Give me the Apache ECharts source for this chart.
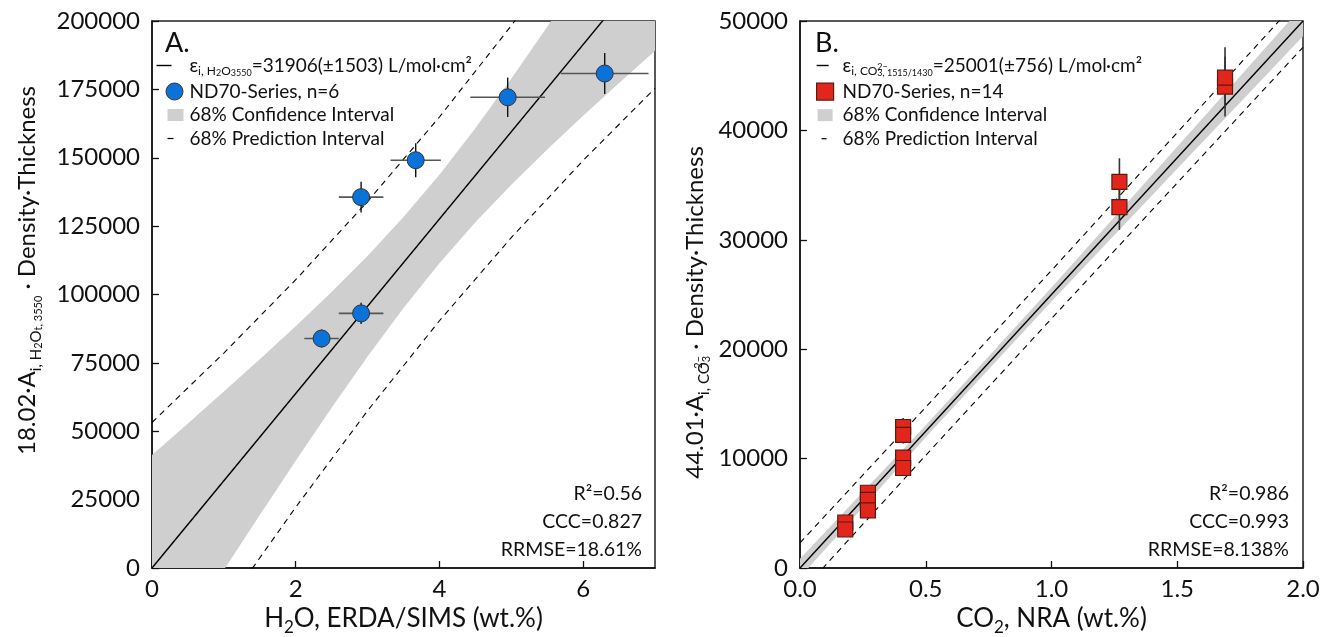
<!DOCTYPE html>
<html>
<head>
<meta charset="utf-8">
<title>ND70-Series calibration</title>
<script src="https://cdn.jsdelivr.net/npm/echarts@6/dist/echarts.min.js"></script>
<style>
  html, body { margin: 0; padding: 0; background: #fff; }
  #main { width: 1336px; height: 637px; }
</style>
</head>
<body>
<div id="main"></div>
<script>
/*---------------- A: H2O ----------------*/
var h2oX    = [2.36, 2.91, 2.91, 3.67, 4.95, 6.30];
var h2oXerr = [0.24, 0.31, 0.31, 0.35, 0.52, 0.61];
var h2oY    = [83900, 93100, 135600, 149100, 172100, 180800];
var h2oYerr = [3300, 3900, 5600, 6200, 7200, 7500];
var h2oFit  = [[0, 0], [7, 223300]];
// 68% confidence band
var h2oCiX  = [0, 0.5, 1, 1.5, 2, 2.5, 3, 3.5, 4, 4.5, 5, 5.5, 6, 6.5, 7];
var h2oCiLo = [-41300, -20900, -700, 19400, 39200, 58600, 77300, 95100, 111400, 126400, 140100, 153000, 165400, 177300, 189100];
var h2oCiHi = [41300, 52800, 64500, 76300, 88400, 100900, 114100, 128300, 143800, 160800, 178900, 197900, 217500, 237400, 257600];
// 68% prediction interval (dashed)
var h2oPiX  = [0, 1, 2, 3, 4, 5, 6, 7];
var h2oPiLo = [-53200, -14800, 22200, 57500, 90400, 120800, 149000, 175400];
var h2oPiHi = [53200, 78600, 105400, 134000, 164900, 198300, 233900, 271300];

/*---------------- B: CO2 ----------------*/
var co2X    = [0.18, 0.18, 0.27, 0.27, 0.27, 0.41, 0.41, 0.41, 0.41, 1.27, 1.27, 1.69, 1.69];
var co2Y    = [4160, 3520, 6880, 6220, 5270, 12890, 12160, 10080, 9140, 35300, 32990, 44000, 44820];
var co2Yerr = [300, 250, 480, 440, 370, 820, 780, 650, 600, 2150, 2090, 2740, 2780];
var co2Fit  = [[0, 0], [2, 50002]];
var co2CiX  = [0, 0.5, 1, 1.5, 2];
var co2CiLo = [-850, 11950, 24350, 36500, 48600];
var co2CiHi = [850, 13050, 25650, 38500, 51400];
var co2PiX  = [0, 0.5, 1, 1.5, 2];
var co2PiLo = [-2300, 10300, 22800, 35200, 47600];
var co2PiHi = [2300, 14700, 27200, 39800, 52400];

(function () {
	var FONT = 'Lato';
	var INK = '#111';

	function pairs(xs, ys) {
		return xs.map(function (x, i) { return [x, ys[i]]; });
	}

	// grey confidence band as one polygon
	function bandItem(xs, lo, hi) {
		return function (params, api) {
			if (params.dataIndex !== 0) return;
			var pts = [];
			for (var i = 0; i < xs.length; i++) pts.push(api.coord([xs[i], hi[i]]));
			for (var j = xs.length - 1; j >= 0; j--) pts.push(api.coord([xs[j], lo[j]]));
			var cs = params.coordSys;
			return {
				type: 'polygon',
				shape: { points: pts },
				style: { fill: '#cfcfcf' },
				clipPath: { type: 'rect', shape: { x: cs.x, y: cs.y, width: cs.width, height: cs.height } }
			};
		};
	}

	function errItem(hColor, vColor, hWidth, vWidth) {
		return function (params, api) {
			var x = api.value(0), y = api.value(1), dx = api.value(2), dy = api.value(3);
			var kids = [];
			if (dx > 0) {
				var a = api.coord([x - dx, y]), b = api.coord([x + dx, y]);
				kids.push({ type: 'line', shape: { x1: a[0], y1: a[1], x2: b[0], y2: b[1] }, style: { stroke: hColor, lineWidth: hWidth } });
			}
			if (dy > 0) {
				var c = api.coord([x, y + dy]), d = api.coord([x, y - dy]);
				kids.push({ type: 'line', shape: { x1: c[0], y1: c[1], x2: d[0], y2: d[1] }, style: { stroke: vColor, lineWidth: vWidth } });
			}
			return { type: 'group', children: kids };
		};
	}

	// legend text: main / subscript / sub-subscript / stacked superscript
	var rich = {
		m: { fontFamily: FONT, fontSize: 19, lineHeight: 24, color: INK },
		s: { fontFamily: FONT, fontSize: 12, verticalAlign: 'bottom', color: INK },
		ss: { fontFamily: FONT, fontSize: 9, verticalAlign: 'bottom', color: INK },
		z: { fontFamily: FONT, fontSize: 9, verticalAlign: 'bottom', padding: [0, 0, 6, 0], width: 0, color: INK }
	};

	var axisRich = {
		m: { fontFamily: FONT, fontSize: 26, lineHeight: 34, color: INK },
		s: { fontFamily: FONT, fontSize: 17, verticalAlign: 'bottom', color: INK }
	};
	var yRich = {
		m: { fontFamily: FONT, fontSize: 24, lineHeight: 33, color: INK },
		s: { fontFamily: FONT, fontSize: 15, verticalAlign: 'bottom', color: INK },
		ss: { fontFamily: FONT, fontSize: 11, verticalAlign: 'bottom', color: INK },
		z: { fontFamily: FONT, fontSize: 11, verticalAlign: 'bottom', padding: [0, 0, 8, 0], width: 0, color: INK }
	};

	function xAxisOf(idx, min, max, interval, name, fmt, showMax) {
		return {
			type: 'value', gridIndex: idx, min: min, max: max, interval: interval,
			name: name, nameLocation: 'middle', nameGap: 30,
			nameTextStyle: { fontFamily: FONT, fontSize: 26, color: INK, rich: axisRich },
			axisLine: { show: true, onZero: false, lineStyle: { color: '#111', width: 1.5 } },
			axisTick: { show: true, inside: true, length: 7, lineStyle: { color: '#111', width: 1.3 } },
			axisLabel: { fontFamily: FONT, fontSize: 24, color: INK, margin: 9, formatter: fmt, showMaxLabel: showMax },
			splitLine: { show: false }
		};
	}

	function yAxisOf(idx, max, interval, name, gap, pad) {
		return {
			type: 'value', gridIndex: idx, min: 0, max: max, interval: interval,
			name: name, nameLocation: 'middle', nameGap: gap,
			nameTextStyle: { fontFamily: FONT, fontSize: 24, color: INK, rich: yRich, padding: pad },
			axisLine: { show: true, onZero: false, lineStyle: { color: '#111', width: 1.5 } },
			axisTick: { show: true, inside: true, length: 7, lineStyle: { color: '#111', width: 1.3 } },
			axisLabel: { fontFamily: FONT, fontSize: 24, color: INK, margin: 12, formatter: function (v) { return String(v); } },
			splitLine: { show: false }
		};
	}

	var fitIconA  = 'path://M0,0L0,0M6,8.3H21V9.7H6ZM34,18L34,18';
	var dotIconA  = 'path://M0,0L0,0M15.5,9A8.5,8.5,0,1,1,32.5,9A8.5,8.5,0,1,1,15.5,9ZM34,18L34,18';
	var ciIconA   = 'path://M0,0L0,0M17,3H33V15H17ZM34,18L34,18';
	var piIconA   = 'path://M0,0L0,0M17,8.4H23V9.6H17ZM34,18L34,18';
	var fitIconB  = 'path://M0,0L0,0M16,8.3H28V9.7H16ZM37,18L37,18';
	var sqIconB   = 'path://M0,0L0,0M16,0.5H33V17.5H16ZM37,18L37,18';
	var ciIconB   = 'path://M0,0L0,0M17,3H32V15H17ZM37,18L37,18';
	var piIconB   = 'path://M0,0L0,0M21,8.4H26V9.6H21ZM37,18L37,18';

	function legendOf(left, itemWidth, items, fitText) {
		return {
			orient: 'vertical', left: left, top: 56, padding: 0, itemGap: 4.5,
			itemWidth: itemWidth, itemHeight: 18, selectedMode: false,
			itemStyle: { borderWidth: 0 },
			textStyle: { fontFamily: FONT, fontSize: 19, color: INK, rich: rich },
			data: items,
			formatter: function (name) {
				if (name === 'fitA' || name === 'fitB') return fitText;
				return '{m|' + name + '}';
			}
		};
	}

	function statText(x, y, t) {
		return { type: 'text', x: x, y: y, style: { text: t, align: 'right', verticalAlign: 'middle', fontFamily: FONT, fontSize: 19.5, fill: INK } };
	}

	var option = {
		animation: false,
		backgroundColor: '#fff',
		grid: [
			{ left: 152, top: 21, width: 503, height: 547, show: true, borderColor: '#222', borderWidth: 1.5, backgroundColor: 'transparent', containLabel: false, outerBoundsMode: 'none' },
			{ left: 800, top: 21, width: 503, height: 547, show: true, borderColor: '#222', borderWidth: 1.5, backgroundColor: 'transparent', containLabel: false, outerBoundsMode: 'none' }
		],
		xAxis: [
			xAxisOf(0, 0, 7, 2, '{m|H}{s|2}{m|O, ERDA/SIMS (wt.%)}', function (v) { return String(v); }, false),
			xAxisOf(1, 0, 2, 0.5, '{m|CO}{s|2}{m|, NRA (wt.%)}', function (v) { return v.toFixed(1); }, true)
		],
		yAxis: [
			yAxisOf(0, 200000, 25000, '{m|18.02·A}{s|i, H}{ss|2}{s|O}{ss|t, 3550}{m| · Density·Thickness}', 108, [0, 0, 0, 48]),
			yAxisOf(1, 50000, 10000, '{m|44.01·A}{s|i, CO}{z|2−}{ss|3}{m| · Density·Thickness}', 88, [0, 36, 0, 0])
		],
		legend: [
			legendOf(150, 34, [
				{ name: 'fitA', icon: fitIconA, itemStyle: { color: '#000', borderWidth: 0 } },
				{ name: 'ND70-Series, n=6', icon: dotIconA, itemStyle: { color: '#0b72d9', borderColor: '#333', borderWidth: 1 } },
				{ name: '68% Confidence Interval', icon: ciIconA, itemStyle: { color: '#cfcfcf', borderWidth: 0 } },
				{ name: '68% Prediction Interval', icon: piIconA, itemStyle: { color: '#000', borderWidth: 0 } }
			], '{m|ε}{s|i, H}{ss|2}{s|O}{ss|3550}{m|=31906(±1503) L/mol·cm²}'),
			legendOf(800, 37, [
				{ name: 'fitB', icon: fitIconB, itemStyle: { color: '#000', borderWidth: 0 } },
				{ name: 'ND70-Series, n=14', icon: sqIconB, itemStyle: { color: '#e3261b', borderColor: '#5a1a12', borderWidth: 1.2 } },
				{ name: '68% Confidence Interval', icon: ciIconB, itemStyle: { color: '#cfcfcf', borderWidth: 0 } },
				{ name: '68% Prediction Interval', icon: piIconB, itemStyle: { color: '#000', borderWidth: 0 } }
			], '{m|ε}{s|i, CO}{z|2−}{ss|3, 1515/1430}{m|=25001(±756) L/mol·cm²}')
		],
		graphic: [
			{ type: 'text', x: 165, y: 43, style: { text: 'A.', fontFamily: FONT, fontSize: 27, fill: INK, verticalAlign: 'middle' } },
			{ type: 'text', x: 815, y: 43, style: { text: 'B.', fontFamily: FONT, fontSize: 27, fill: INK, verticalAlign: 'middle' } },
			statText(642, 494, 'R²=0.56'),
			statText(642, 522, 'CCC=0.827'),
			statText(642, 550, 'RRMSE=18.61%'),
			statText(1289, 494, 'R²=0.986'),
			statText(1289, 522, 'CCC=0.993'),
			statText(1289, 550, 'RRMSE=8.138%')
		],
		series: [
			/* ---- A ---- */
			{
				name: '68% Confidence Interval', type: 'custom', xAxisIndex: 0, yAxisIndex: 0, z: 1,
				itemStyle: { color: '#cfcfcf' }, clip: true,
				renderItem: bandItem(h2oCiX, h2oCiLo, h2oCiHi),
				encode: { x: 0, y: [1, 2] },
				data: h2oCiX.map(function (x, i) { return [x, h2oCiLo[i], h2oCiHi[i]]; })
			},
			{
				name: '68% Prediction Interval', type: 'line', xAxisIndex: 0, yAxisIndex: 0, z: 2,
				symbol: 'none', itemStyle: { color: '#000' }, clip: true,
				lineStyle: { color: '#000', width: 1.1, type: [6, 5] },
				data: pairs(h2oPiX, h2oPiHi)
			},
			{
				name: '68% Prediction Interval', type: 'line', xAxisIndex: 0, yAxisIndex: 0, z: 2,
				symbol: 'none', itemStyle: { color: '#000' }, clip: true,
				lineStyle: { color: '#000', width: 1.1, type: [6, 5] },
				data: pairs(h2oPiX, h2oPiLo)
			},
			{
				name: 'fitA', type: 'line', xAxisIndex: 0, yAxisIndex: 0, z: 3,
				symbol: 'none', itemStyle: { color: '#000' }, clip: true,
				lineStyle: { color: '#000', width: 1.4 },
				data: h2oFit
			},
			{
				name: 'errA', type: 'custom', xAxisIndex: 0, yAxisIndex: 0, z: 4,
				renderItem: errItem('#555', '#111', 1.6, 1.4),
				dimensions: ['x', 'y', 'dx', 'dy'],
				encode: { x: 0, y: 1 },
				data: h2oX.map(function (x, i) { return [x, h2oY[i], h2oXerr[i], h2oYerr[i]]; })
			},
			{
				name: 'ND70-Series, n=6', type: 'scatter', xAxisIndex: 0, yAxisIndex: 0, z: 5,
				symbol: 'circle', symbolSize: 17,
				itemStyle: { color: '#0b72d9', borderColor: '#333', borderWidth: 1, opacity: 1 },
				data: pairs(h2oX, h2oY)
			},
			/* ---- B ---- */
			{
				name: '68% Confidence Interval', type: 'custom', xAxisIndex: 1, yAxisIndex: 1, z: 1,
				itemStyle: { color: '#cfcfcf' }, clip: true,
				renderItem: bandItem(co2CiX, co2CiLo, co2CiHi),
				encode: { x: 0, y: [1, 2] },
				data: co2CiX.map(function (x, i) { return [x, co2CiLo[i], co2CiHi[i]]; })
			},
			{
				name: '68% Prediction Interval', type: 'line', xAxisIndex: 1, yAxisIndex: 1, z: 2,
				symbol: 'none', itemStyle: { color: '#000' }, clip: true,
				lineStyle: { color: '#000', width: 1.1, type: [6, 5] },
				data: pairs(co2PiX, co2PiHi)
			},
			{
				name: '68% Prediction Interval', type: 'line', xAxisIndex: 1, yAxisIndex: 1, z: 2,
				symbol: 'none', itemStyle: { color: '#000' }, clip: true,
				lineStyle: { color: '#000', width: 1.1, type: [6, 5] },
				data: pairs(co2PiX, co2PiLo)
			},
			{
				name: 'fitB', type: 'line', xAxisIndex: 1, yAxisIndex: 1, z: 3,
				symbol: 'none', itemStyle: { color: '#000' }, clip: true,
				lineStyle: { color: '#000', width: 1.4 },
				data: co2Fit
			},
			{
				name: 'errB', type: 'custom', xAxisIndex: 1, yAxisIndex: 1, z: 4,
				renderItem: errItem('#333', '#333', 1.6, 1.6),
				dimensions: ['x', 'y', 'dx', 'dy'],
				encode: { x: 0, y: 1 },
				data: co2X.map(function (x, i) { return [x, co2Y[i], 0, co2Yerr[i]]; })
			},
			{
				name: 'ND70-Series, n=14', type: 'scatter', xAxisIndex: 1, yAxisIndex: 1, z: 5,
				symbol: 'rect', symbolSize: 15,
				itemStyle: { color: '#e3261b', borderColor: '#5a1a12', borderWidth: 1.2, opacity: 1 },
				data: pairs(co2X, co2Y)
			}
		]
	};

	var myChart = echarts.init(document.getElementById('main'));
	myChart.setOption(option);
})();
</script>
</body>
</html>
